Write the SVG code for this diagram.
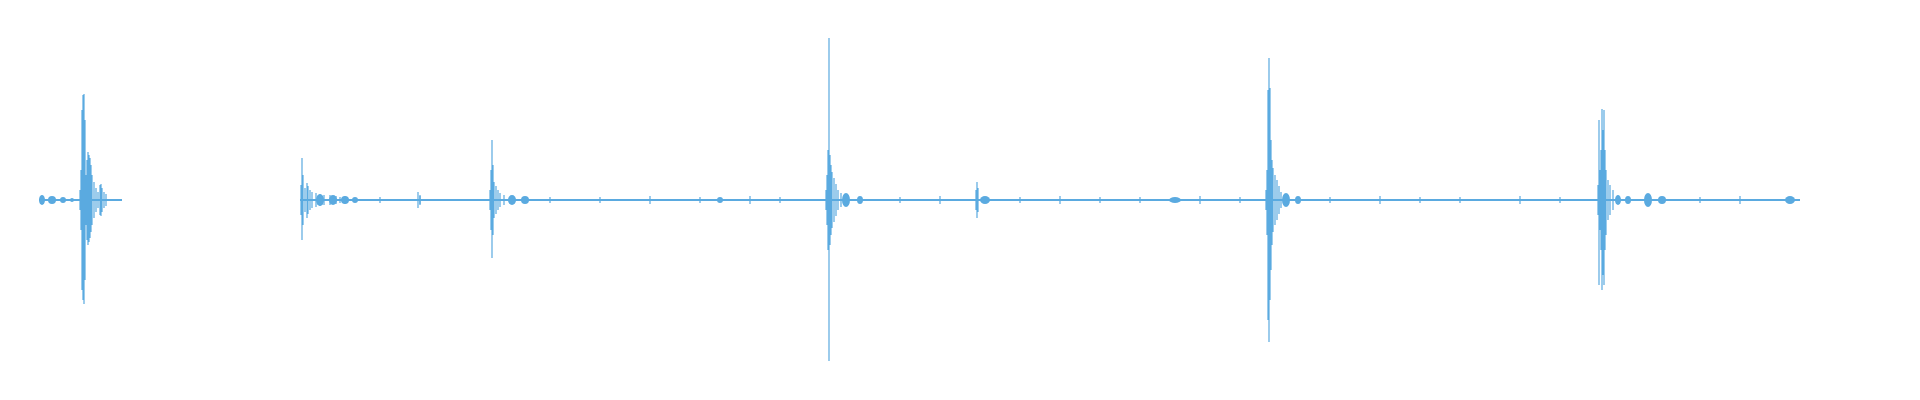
<svg xmlns="http://www.w3.org/2000/svg" width="1920" height="400" viewBox="0 0 1920 400">
<style>
.w{stroke:#5aaae0;stroke-width:1.2;fill:none}
.b{stroke:#5aaae0;stroke-width:2;fill:none}
.e{fill:#5aaae0}
</style>
<rect width="1920" height="400" fill="#fff"/>
<g id="seg1">
<path class="b" d="M39 200H122"/>
<ellipse class="e" cx="42" cy="200" rx="3" ry="5"/><ellipse class="e" cx="52" cy="200" rx="4" ry="4"/><ellipse class="e" cx="63" cy="200" rx="3" ry="3"/><ellipse class="e" cx="72" cy="200" rx="2" ry="2"/>
<path class="w" d="M80 190V210M81 170V230M82 110V290M83 95V300M84 94V304M85 120V280M86 175V225M87 160V240M88 152V245M89 155V242M90 158V238M91 165V232M92 175V225M94 182V218M96 188V212M98 192V208M100 185V215M101 184V216M102 188V212M104 192V208M106 194V206"/>
</g>
<g id="seg2">
<path class="b" d="M300 200H1800"/>
<path class="w" d="M301 185V215M302 158V240M303 175V225M305 188V212M307 183V218M308 186V214M310 190V210M312 192V208M316 193V207M320 194V206M324 195V205M330 195V205M336 196V204M345 196V204"/>
<ellipse class="e" cx="320" cy="200" rx="4" ry="6"/><ellipse class="e" cx="333" cy="200" rx="4" ry="5"/><ellipse class="e" cx="345" cy="200" rx="4" ry="4"/><ellipse class="e" cx="355" cy="200" rx="3" ry="3"/>
<path class="w" d="M418 192V208M420 195V205"/>
<path class="w" d="M490 190V210M491 170V230M492 140V258M493 165V235M494 182V218M496 186V214M498 190V210M500 193V207M504 195V205"/>
<ellipse class="e" cx="512" cy="200" rx="4" ry="5"/><ellipse class="e" cx="525" cy="200" rx="4" ry="4"/>
<path class="w" d="M826 190V210M827 175V225M828 150V250M829 38V361M830 155V245M831 165V235M832 172V228M834 178V222M836 184V216M838 190V210M841 193V207"/>
<ellipse class="e" cx="846" cy="200" rx="4" ry="7"/><ellipse class="e" cx="860" cy="200" rx="3" ry="4"/>
<path class="w" d="M976 190V210M977 182V218M978 188V212"/>
<ellipse class="e" cx="985" cy="200" rx="5" ry="4"/><ellipse class="e" cx="720" cy="200" rx="3" ry="3"/><ellipse class="e" cx="1175" cy="200" rx="6" ry="3"/>
<path class="w" d="M1266 190V210M1267 170V235M1268 90V320M1269 58V342M1270 88V300M1271 140V270M1272 160V245M1273 168V232M1275 175V225M1277 180V220M1279 186V214M1281 192V208"/>
<ellipse class="e" cx="1286" cy="200" rx="4" ry="7"/><ellipse class="e" cx="1298" cy="200" rx="3" ry="4"/>
<path class="w" d="M1598 185V215M1599 120V285M1600 170V230M1601 150V250M1602 109V290M1603 130V275M1604 110V285M1605 150V250M1606 170V235M1608 180V220M1610 185V215M1613 190V210"/>
<ellipse class="e" cx="1618" cy="200" rx="3" ry="5"/><ellipse class="e" cx="1628" cy="200" rx="3" ry="4"/><ellipse class="e" cx="1648" cy="200" rx="4" ry="7"/><ellipse class="e" cx="1662" cy="200" rx="4" ry="4"/><ellipse class="e" cx="1790" cy="200" rx="5" ry="4"/>
<path class="w" d="M340 197V203M380 197V203M420 196V204M550 197V203M600 197V203M650 196V204M700 197V203M750 196V204M780 197V203M900 197V203M940 196V204M1020 197V203M1060 196V204M1100 197V203M1140 197V203M1200 196V204M1240 197V203M1330 197V203M1380 196V204M1420 197V203M1460 197V203M1520 196V204M1560 197V203M1700 197V203M1740 196V204"/>
</g>
</svg>
